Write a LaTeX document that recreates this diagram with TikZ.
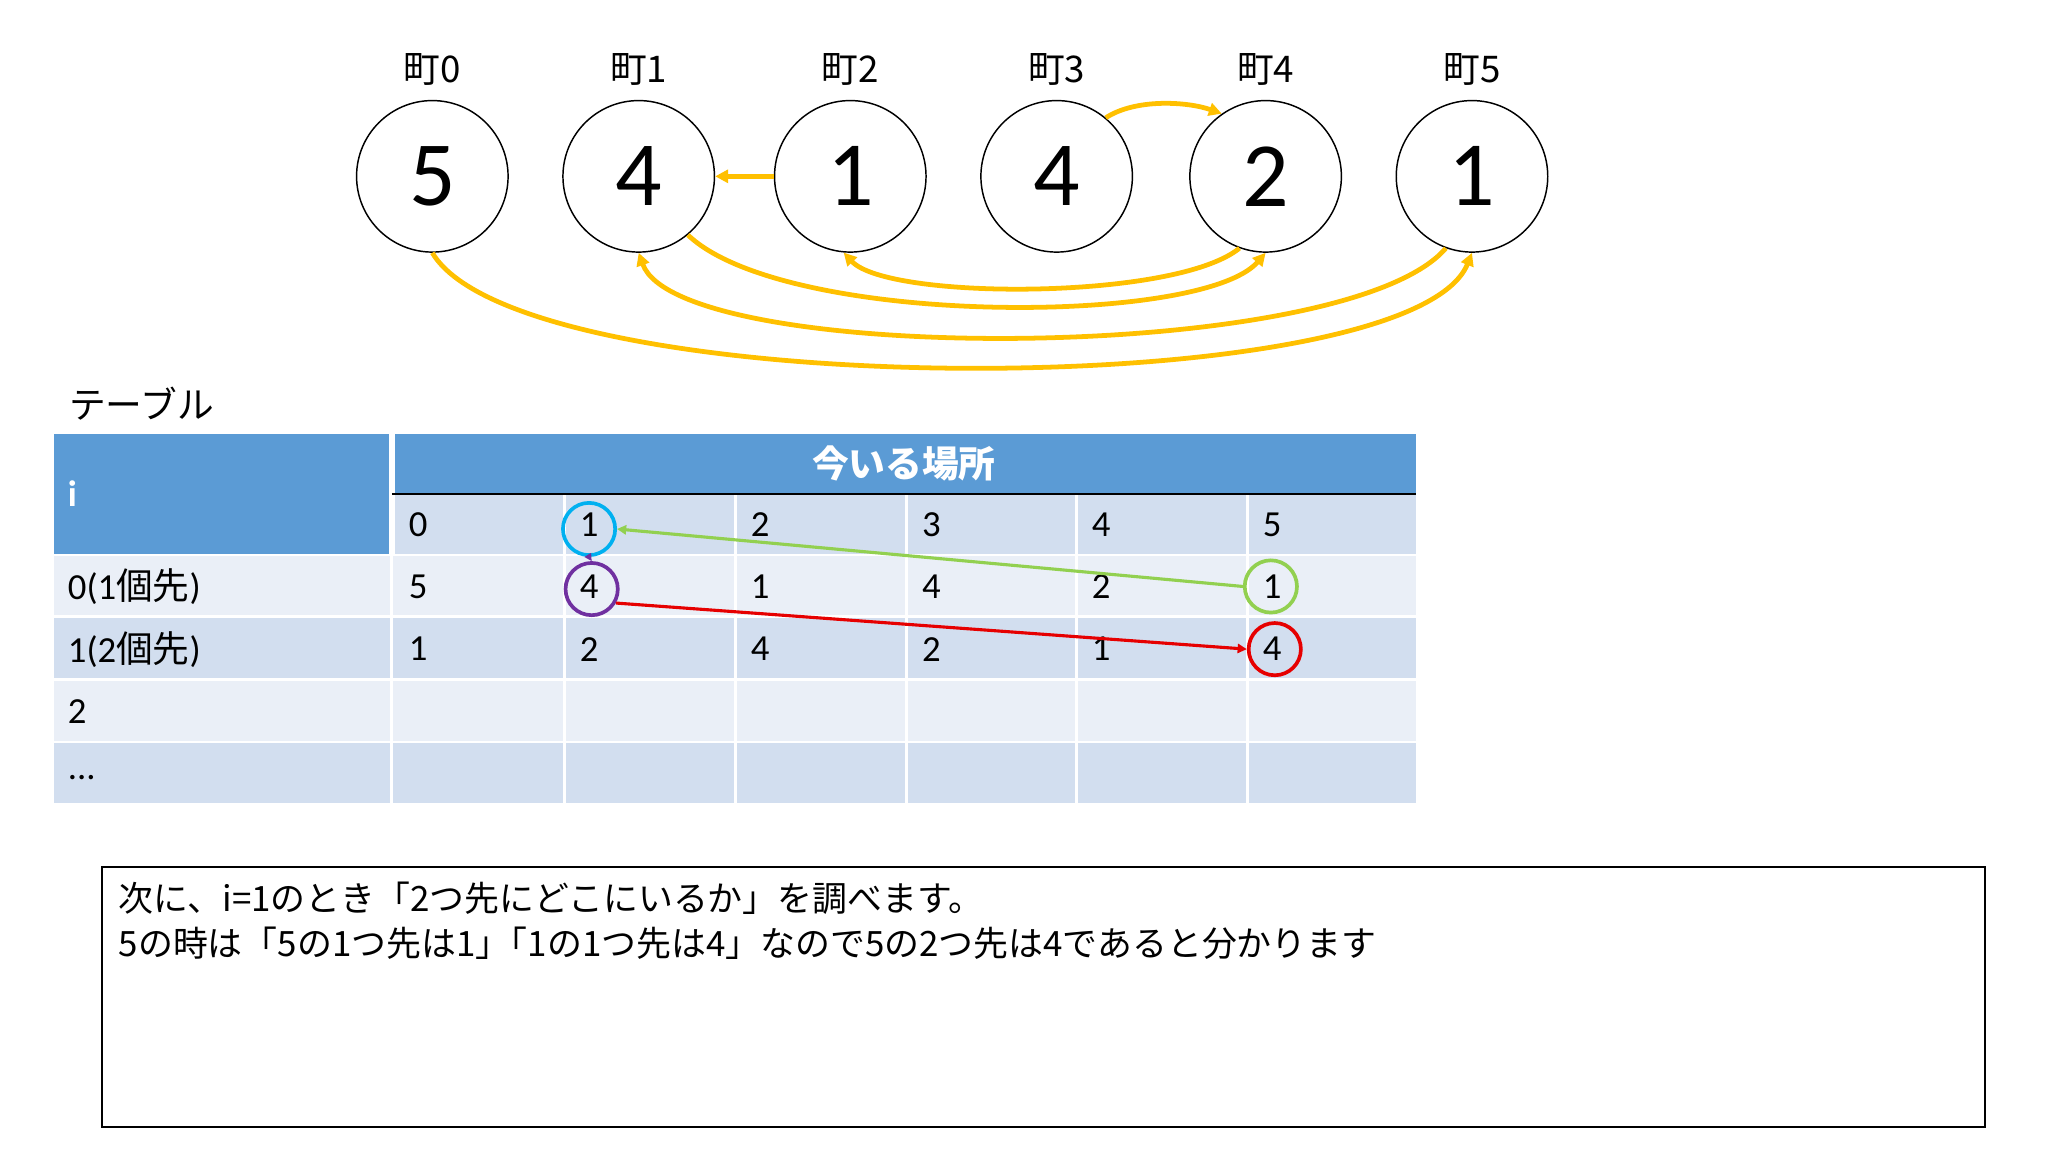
\documentclass[tikz,border=0pt]{standalone}
\usepackage{fontspec}
\setmainfont{Carlito}
\newfontfamily\cjk{Noto Sans CJK JP}
\usetikzlibrary{arrows.meta}
\definecolor{orng}{HTML}{FFC000}
\definecolor{hdr}{HTML}{5B9BD5}
\definecolor{lt}{HTML}{EAEFF7}
\definecolor{dk}{HTML}{D2DEEF}
\definecolor{mcyan}{RGB}{0,176,240}
\definecolor{mpur}{RGB}{112,48,160}
\definecolor{mgrn}{RGB}{146,208,80}
\definecolor{mred}{RGB}{230,0,0}
\begin{document}
\begin{tikzpicture}[x=0.025cm,y=-0.025cm,
 town/.style={circle,draw,thick,minimum size=116*0.025cm,inner sep=0,font=\fontsize{50}{56}\selectfont},
 lab/.style={font=\fontsize{20}{24}\selectfont\cjk},
 oa/.style={orng,line width=2.6pt,-{Triangle[length=7pt,width=7pt]}},
 cell/.style={anchor=west,font=\fontsize{20}{24}\selectfont},
 ring/.style={circle,line width=2pt,minimum size=40*0.025cm,inner sep=0}]
\useasboundingbox (0,0) rectangle (1568,882);
\foreach \i/\x/\v in {0/331/5,1/489/4,2/651/1,3/809/4,4/969/2,5/1127/1}{
 \node[town] (t\i) at (\x,135) {\v};
 \node[lab] (l\i) at (\x,53) {町\i};
}
\draw[oa] (t2.west) -- (t1.east);
\draw[oa] (t3.50) .. controls (870,75) and (910,78) .. (t4.125);
\draw[oa] (t4.-110) .. controls (900,230) and (680,230) .. (t2.-95);
\draw[oa] (t1.-50) .. controls (600,250) and (920,250) .. (t4.-90);
\draw[oa] (t5.-110) .. controls (1030,280) and (520,280) .. (t1.-90);
\draw[oa] (t0.-90) .. controls (400,310) and (1080,310) .. (t5.-90);
\node[lab,anchor=west,font=\fontsize{20}{24}\selectfont\cjk] (tt) at (48,309) {テーブル};
% table
\fill[hdr] (41,332) rectangle (1084,378);
\fill[hdr] (41,378) rectangle (300,425);
\fill[dk] (300,378) rectangle (1084,425);
\fill[lt] (41,425) rectangle (1084,472);
\fill[dk] (41,472) rectangle (1084,520);
\fill[lt] (41,520) rectangle (1084,568);
\fill[dk] (41,568) rectangle (1084,615);
\foreach \x in {300,432,563,694,824,955}{\draw[white,line width=1.5pt] (\x,378) -- (\x,615);}
\draw[white,line width=3pt] (300,332) -- (300,425);
\foreach \y in {425,472,520,568}{\draw[white,line width=1.5pt] (41,\y) -- (1084,\y);}
\draw[black,line width=1.2pt] (300,378) -- (1084,378);
\node[font=\fontsize{20}{24}\selectfont\bfseries\cjk,text=white] (h) at (692,355) {今いる場所};
\node[cell,text=white,font=\fontsize{20}{24}\selectfont\bfseries] (hi) at (47,378) {i};
\node[cell] (r0) at (47,449) {0(1{\cjk 個先})};
\node[cell] (r1) at (47,497) {1(2{\cjk 個先})};
\node[cell] (r2) at (47,545) {2};
\node[cell] (r3) at (47,595) {...};
\foreach \x/\a/\b/\c [count=\k from 0] in {308/5/1/0,439/4/2/1,570/1/4/2,701/4/2/3,831/2/1/4,962/1/4/5}{
 \node[cell] (c\k) at (\x,402) {\c};
 \node[cell] (a\k) at (\x,449) {\a};
 \node[cell] (b\k) at (\x,497) {\b};
}
\node[ring,draw=mcyan] (mc) at (451,405) {};
\node[ring,draw=mpur] (mp) at (453,451) {};
\node[ring,draw=mgrn] (mg) at (973,449) {};
\node[ring,draw=mred] (mr) at (976,497) {};
\draw[mgrn,line width=1.7pt,-{Triangle[length=5pt,width=5pt]}] (mg.west) -- (mc.east);
\draw[mpur,line width=1.2pt,-{Triangle[length=4pt,width=4pt]}] (mc.south) -- (mp.north);
\draw[mred,line width=1.7pt,-{Triangle[length=5pt,width=5pt]}] (mp.-30) -- (mr.west);
% text box
\draw[line width=1pt] (78,664) rectangle (1520,863);
\node[anchor=west,font=\fontsize{19}{23}\selectfont\cjk] (x1) at (86,688) {次に、i=1のとき「2つ先にどこにいるか」を調べます。};
\node[anchor=west,font=\fontsize{19}{23}\selectfont\cjk] (x2) at (86,722) {5の時は「5の1つ先は1」\hspace{-0.5em}「1の1つ先は4」なので5の2つ先は4であると分かります};
\end{tikzpicture}
\end{document}
